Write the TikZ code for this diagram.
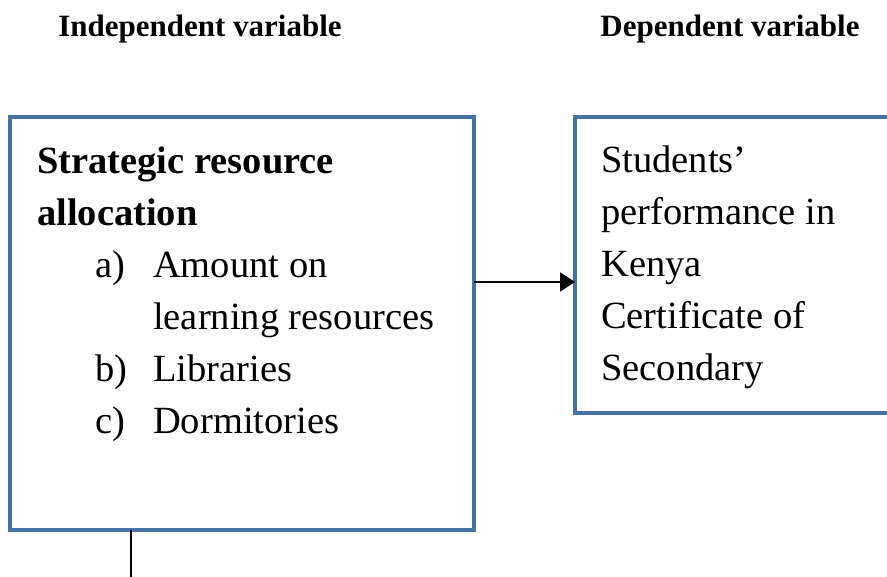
\documentclass[tikz,border=0pt]{standalone}
\usepackage{fontspec}
\setmainfont{Liberation Serif}
\usetikzlibrary{arrows.meta}
\definecolor{boxblue}{RGB}{70,115,165}

\begin{document}
\begin{tikzpicture}[x=1pt, y=-1pt,
    every node/.style={inner sep=0pt},
    heading/.style={font=\fontsize{31}{37}\selectfont\bfseries, anchor=base},
    varbox/.style={draw=boxblue, line width=3.5pt, outer sep=0pt, anchor=north west},
    boxtext/.style={font=\fontsize{38.5}{52}\selectfont, align=left, anchor=north west},
    link/.style={line width=1.8pt}]
    \useasboundingbox (0,0) rectangle (887,577);
    % column headings
    \node[heading] (indep) at (200,37) {Independent variable};
    \node[heading] (dep) at (730,37) {Dependent variable};
    % the two variable boxes
    \node[varbox, minimum width=464pt, minimum height=413pt] (srabox) at (10,117) {};
    \node[varbox, minimum width=360pt, minimum height=296pt] (perfbox) at (575,117) {};
    \node[boxtext] (sratext) at ([xshift=27pt, yshift=-30pt]srabox.north west)
        {\textbf{Strategic resource}\\
         \textbf{allocation}\\
         \hspace*{58pt}\makebox[58pt][l]{a)}Amount on\\
         \hspace*{116pt}learning resources\\
         \hspace*{58pt}\makebox[58pt][l]{b)}Libraries\\
         \hspace*{58pt}\makebox[58pt][l]{c)}Dormitories};
    \node[boxtext] (perftext) at ([xshift=26pt, yshift=-29pt]perfbox.north west)
        {Students’\\
         performance in\\
         Kenya\\
         Certificate of\\
         Secondary};
    % connectors
    \coordinate (join) at (470,282);
    \coordinate (tail) at (131,590);
    \draw[link, -{Triangle[length=15pt, width=19pt]}] (srabox.east |- join) -- (join -| perfbox.west);
    \draw[link] (srabox.south -| tail) -- (tail);
\end{tikzpicture}
\end{document}
